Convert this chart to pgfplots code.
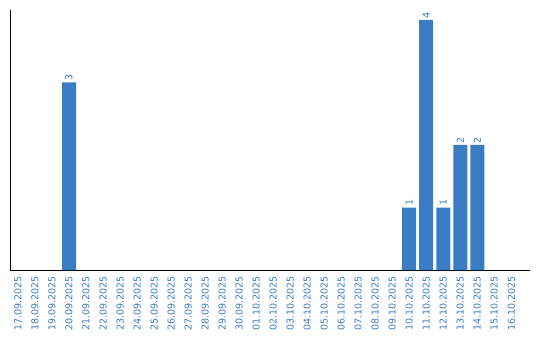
\documentclass[border=0pt]{standalone}
\usepackage{pgfplots}
\pgfplotsset{compat=1.18}
\usepackage{fontspec}
\setmainfont{DejaVu Sans}
\definecolor{barblue}{HTML}{3B7DC4}
\begin{document}
\begin{tikzpicture}
\begin{axis}[
  at={(0,0)}, anchor=south west,
  scale only axis, width=520pt, height=260pt,
  xmin=-0.47, xmax=30.1, ymin=0, ymax=4.16,
  axis lines=left, axis line style={-, black, line width=0.8pt},
  ytick=\empty,
  xtick={0,...,29},
  xticklabels={17.09.2025,18.09.2025,19.09.2025,20.09.2025,21.09.2025,22.09.2025,23.09.2025,24.09.2025,25.09.2025,26.09.2025,27.09.2025,28.09.2025,29.09.2025,30.09.2025,01.10.2025,02.10.2025,03.10.2025,04.10.2025,05.10.2025,06.10.2025,07.10.2025,08.10.2025,09.10.2025,10.10.2025,11.10.2025,12.10.2025,13.10.2025,14.10.2025,15.10.2025,16.10.2025},
  major tick length=0pt,
  xticklabel style={rotate=90, anchor=east, inner xsep=6pt, inner ysep=0pt, font=\fontsize{9.5}{10}\selectfont, text=barblue},
  ybar, bar width=14pt,
  point meta=explicit symbolic,
  nodes near coords,
  nodes near coords style={rotate=90, anchor=west, inner xsep=1.5pt, inner ysep=0pt, font=\fontsize{9.5}{10}\selectfont, text=barblue},
  clip=false,
]
\addplot[fill=barblue, draw=none] coordinates {(3,3) [3] (23,1) [1] (24,4) [4] (25,1) [1] (26,2) [2] (27,2) [2]};
\end{axis}
\pgfresetboundingbox
\path (-10pt,-70pt) rectangle (530pt,270pt);
\end{tikzpicture}
\end{document}
